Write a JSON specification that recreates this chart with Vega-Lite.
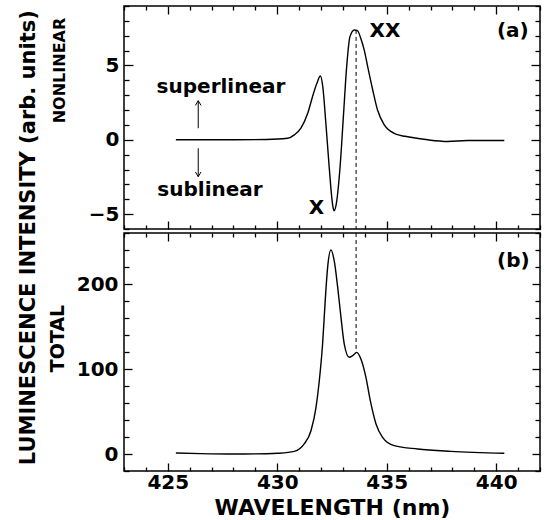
{
  "$schema": "https://vega.github.io/schema/vega-lite/v6.json",
  "padding": {"left": 18, "top": 4, "right": 2, "bottom": 0},
  "background": "white",
  "title": {"text": "LUMINESCENCE INTENSITY (arb. units)", "orient": "left", "anchor": "middle", "font": "DejaVu Sans", "fontSize": 21, "fontWeight": "bold", "color": "black", "offset": 8, "dx": 24},
  "config": {
    "font": "DejaVu Sans",
    "view": {"stroke": "black", "strokeWidth": 1.5},
    "axis": {"domain": false, "grid": false, "tickColor": "black", "tickWidth": 1.3, "labelColor": "black", "labelFontSize": 20, "labelFontWeight": "bold", "labelFont": "DejaVu Sans", "titleFont": "DejaVu Sans", "titleFontWeight": "bold", "titleColor": "black", "zindex": 1}
  },
  "datasets": {
    "nl": [
      {"wl": 425.37, "v": 0}, {"wl": 426.5, "v": 0}, {"wl": 428.0, "v": 0}, {"wl": 429.5, "v": 0.02},
      {"wl": 430.47, "v": 0.1}, {"wl": 430.78, "v": 0.33}, {"wl": 431.08, "v": 0.78}, {"wl": 431.39, "v": 1.78},
      {"wl": 431.61, "v": 2.9}, {"wl": 431.81, "v": 3.8}, {"wl": 431.97, "v": 4.29}, {"wl": 432.08, "v": 3.57},
      {"wl": 432.22, "v": 1.11}, {"wl": 432.37, "v": -1.8}, {"wl": 432.52, "v": -4.27}, {"wl": 432.59, "v": -4.77},
      {"wl": 432.7, "v": -4.27}, {"wl": 432.87, "v": -1.8}, {"wl": 433.02, "v": 1.56}, {"wl": 433.17, "v": 4.92},
      {"wl": 433.32, "v": 6.94}, {"wl": 433.52, "v": 7.39}, {"wl": 433.66, "v": 7.34}, {"wl": 433.82, "v": 6.8},
      {"wl": 433.97, "v": 6.05}, {"wl": 434.13, "v": 4.92}, {"wl": 434.36, "v": 3.35}, {"wl": 434.58, "v": 2.0},
      {"wl": 434.89, "v": 1.0}, {"wl": 435.34, "v": 0.44}, {"wl": 436.1, "v": 0.17}, {"wl": 436.87, "v": 0},
      {"wl": 437.78, "v": -0.11}, {"wl": 438.69, "v": -0.05}, {"wl": 440.37, "v": -0.05}
    ],
    "tot": [
      {"wl": 425.37, "v": 1.2}, {"wl": 426.5, "v": 0.5}, {"wl": 428.04, "v": 0}, {"wl": 429.5, "v": 0.3},
      {"wl": 430.02, "v": 0.8}, {"wl": 430.78, "v": 3.1}, {"wl": 431.23, "v": 11.8}, {"wl": 431.54, "v": 27.4},
      {"wl": 431.77, "v": 54.9}, {"wl": 431.92, "v": 86.2}, {"wl": 432.07, "v": 129.4}, {"wl": 432.19, "v": 180.4},
      {"wl": 432.3, "v": 219.6}, {"wl": 432.45, "v": 240}, {"wl": 432.6, "v": 227.4}, {"wl": 432.76, "v": 196},
      {"wl": 432.91, "v": 160.8}, {"wl": 433.06, "v": 129.4}, {"wl": 433.29, "v": 113.8}, {"wl": 433.44, "v": 115.7},
      {"wl": 433.63, "v": 119.6}, {"wl": 433.82, "v": 111.8}, {"wl": 434.05, "v": 90.2}, {"wl": 434.25, "v": 62.7},
      {"wl": 434.51, "v": 35.3}, {"wl": 434.81, "v": 19.6}, {"wl": 435.34, "v": 9.8}, {"wl": 436.41, "v": 5.9},
      {"wl": 437.93, "v": 3.1}, {"wl": 440.37, "v": 0.8}
    ],
    "rule_a": [{"wl": 433.6, "y": 7.39, "y2": -6}],
    "rule_b": [{"wl": 433.6, "y": 260, "y2": 119.6}],
    "ann_a": [
      {"wl": 427.43, "y": 3.57, "label": "superlinear"},
      {"wl": 426.93, "y": -3.37, "label": "sublinear"},
      {"wl": 431.79, "y": -4.62, "label": "X"},
      {"wl": 434.92, "y": 7.32, "label": "XX"},
      {"wl": 440.76, "y": 7.29, "label": "(a)"}
    ],
    "ann_b": [{"wl": 440.78, "y": 226.5, "label": "(b)"}],
    "arrows": [
      {"wl": 426.39, "from": 0.78, "to": 2.63, "dir": "up"},
      {"wl": 426.39, "from": -0.57, "to": -2.48, "dir": "down"}
    ]
  },
  "spacing": 0,
  "vconcat": [
    {
      "width": 416,
      "height": 223,
      "resolve": {"axis": {"x": "independent", "y": "independent"}},
      "layer": [
        {
          "data": {"name": "nl"},
          "mark": {"type": "line", "color": "black", "strokeWidth": 1.4, "interpolate": "monotone"},
          "encoding": {
            "x": {"field": "wl", "type": "quantitative", "scale": {"domain": [423, 442], "nice": false, "zero": false},
              "axis": {"orient": "bottom", "title": null, "labels": false, "values": [425, 430, 435, 440], "tickSize": -8}},
            "y": {"field": "v", "type": "quantitative", "scale": {"domain": [-6, 9], "nice": false, "zero": false},
              "axis": {"orient": "left", "title": "NONLINEAR", "titleFontSize": 16, "titleX": -57, "titleY": 64, "titleAngle": 270, "titleBaseline": "bottom", "titleAlign": "center",
                "values": [-5, 0, 5], "labelPadding": 14, "tickSize": -9}}
          }
        },
        {
          "data": {"name": "rule_a"},
          "mark": {"type": "rule", "color": "black", "strokeWidth": 1, "strokeDash": [4, 3]},
          "encoding": {
            "x": {"field": "wl", "type": "quantitative",
              "axis": {"orient": "top", "title": null, "labels": false, "values": [425, 430, 435, 440], "tickSize": -8}},
            "y": {"field": "y", "type": "quantitative",
              "axis": {"orient": "right", "title": null, "labels": false, "values": [-5, 0, 5], "tickSize": -9}},
            "y2": {"field": "y2"}
          }
        },
        {
          "data": {"name": "arrows"},
          "mark": {"type": "rule", "color": "black", "strokeWidth": 1},
          "encoding": {
            "x": {"field": "wl", "type": "quantitative",
              "axis": {"orient": "bottom", "title": null, "labels": false, "values": [423,424,426,427,428,429,431,432,433,434,436,437,438,439,441,442], "tickSize": -4}},
            "y": {"field": "from", "type": "quantitative",
              "axis": {"orient": "left", "title": null, "labels": false, "values": [-6,-4,-3,-2,-1,1,2,3,4,6,7,8,9], "tickSize": -5}},
            "y2": {"field": "to"}
          }
        },
        {
          "data": {"name": "arrows"},
          "mark": {"type": "point", "filled": false, "color": "black", "strokeWidth": 1, "size": 90, "opacity": 1},
          "encoding": {
            "x": {"field": "wl", "type": "quantitative",
              "axis": {"orient": "top", "title": null, "labels": false, "values": [423,424,426,427,428,429,431,432,433,434,436,437,438,439,441,442], "tickSize": -4}},
            "y": {"field": "to", "type": "quantitative",
              "axis": {"orient": "right", "title": null, "labels": false, "values": [-6,-4,-3,-2,-1,1,2,3,4,6,7,8,9], "tickSize": -5}},
            "shape": {"field": "dir", "type": "nominal", "legend": null, "scale": {"domain": ["up", "down"], "range": ["M-0.6,1L0,0L0.6,1", "M-0.6,-1L0,0L0.6,-1"]}}
          }
        },
        {
          "data": {"name": "ann_a"},
          "mark": {"type": "text", "color": "black", "fontSize": 20, "fontWeight": "bold", "align": "center", "baseline": "middle"},
          "encoding": {
            "x": {"field": "wl", "type": "quantitative", "axis": null},
            "y": {"field": "y", "type": "quantitative", "axis": null},
            "text": {"field": "label"}
          }
        }
      ]
    },
    {
      "width": 416,
      "height": 238,
      "resolve": {"axis": {"x": "independent", "y": "independent"}},
      "layer": [
        {
          "data": {"name": "tot"},
          "mark": {"type": "line", "color": "black", "strokeWidth": 1.4, "interpolate": "monotone"},
          "encoding": {
            "x": {"field": "wl", "type": "quantitative", "scale": {"domain": [423, 442], "nice": false, "zero": false},
              "axis": {"orient": "bottom", "title": "WAVELENGTH (nm)", "titleFontSize": 22, "titlePadding": 5,
                "values": [425, 430, 435, 440], "labelPadding": 9, "tickSize": -8}},
            "y": {"field": "v", "type": "quantitative", "scale": {"domain": [-20, 260], "nice": false, "zero": false},
              "axis": {"orient": "left", "title": "TOTAL", "titleFontSize": 19, "titleX": -57, "titleY": 105, "titleAngle": 270, "titleBaseline": "bottom", "titleAlign": "center",
                "values": [0, 100, 200], "labelPadding": 14, "tickSize": -8}}
          }
        },
        {
          "data": {"name": "rule_b"},
          "mark": {"type": "rule", "color": "black", "strokeWidth": 1, "strokeDash": [4, 3]},
          "encoding": {
            "x": {"field": "wl", "type": "quantitative",
              "axis": {"orient": "top", "title": null, "labels": false, "values": [425, 430, 435, 440], "tickSize": -8}},
            "y": {"field": "y", "type": "quantitative",
              "axis": {"orient": "right", "title": null, "labels": false, "values": [0, 100, 200], "tickSize": -8}},
            "y2": {"field": "y2"}
          }
        },
        {
          "data": {"name": "ann_b"},
          "mark": {"type": "text", "color": "black", "fontSize": 20, "fontWeight": "bold", "align": "center", "baseline": "middle"},
          "encoding": {
            "x": {"field": "wl", "type": "quantitative",
              "axis": {"orient": "bottom", "title": null, "labels": false, "values": [423,424,426,427,428,429,431,432,433,434,436,437,438,439,441,442], "tickSize": -4}},
            "y": {"field": "y", "type": "quantitative",
              "axis": {"orient": "left", "title": null, "labels": false, "values": [-20,20,40,60,80,120,140,160,180,220,240,260], "tickSize": -5}},
            "text": {"field": "label"}
          }
        },
        {
          "data": {"name": "ann_b"},
          "mark": {"type": "text", "color": "black", "fontSize": 20, "fontWeight": "bold", "align": "center", "baseline": "middle", "opacity": 0},
          "encoding": {
            "x": {"field": "wl", "type": "quantitative",
              "axis": {"orient": "top", "title": null, "labels": false, "values": [423,424,426,427,428,429,431,432,433,434,436,437,438,439,441,442], "tickSize": -4}},
            "y": {"field": "y", "type": "quantitative",
              "axis": {"orient": "right", "title": null, "labels": false, "values": [-20,20,40,60,80,120,140,160,180,220,240,260], "tickSize": -5}},
            "text": {"field": "label"}
          }
        }
      ]
    }
  ]
}
